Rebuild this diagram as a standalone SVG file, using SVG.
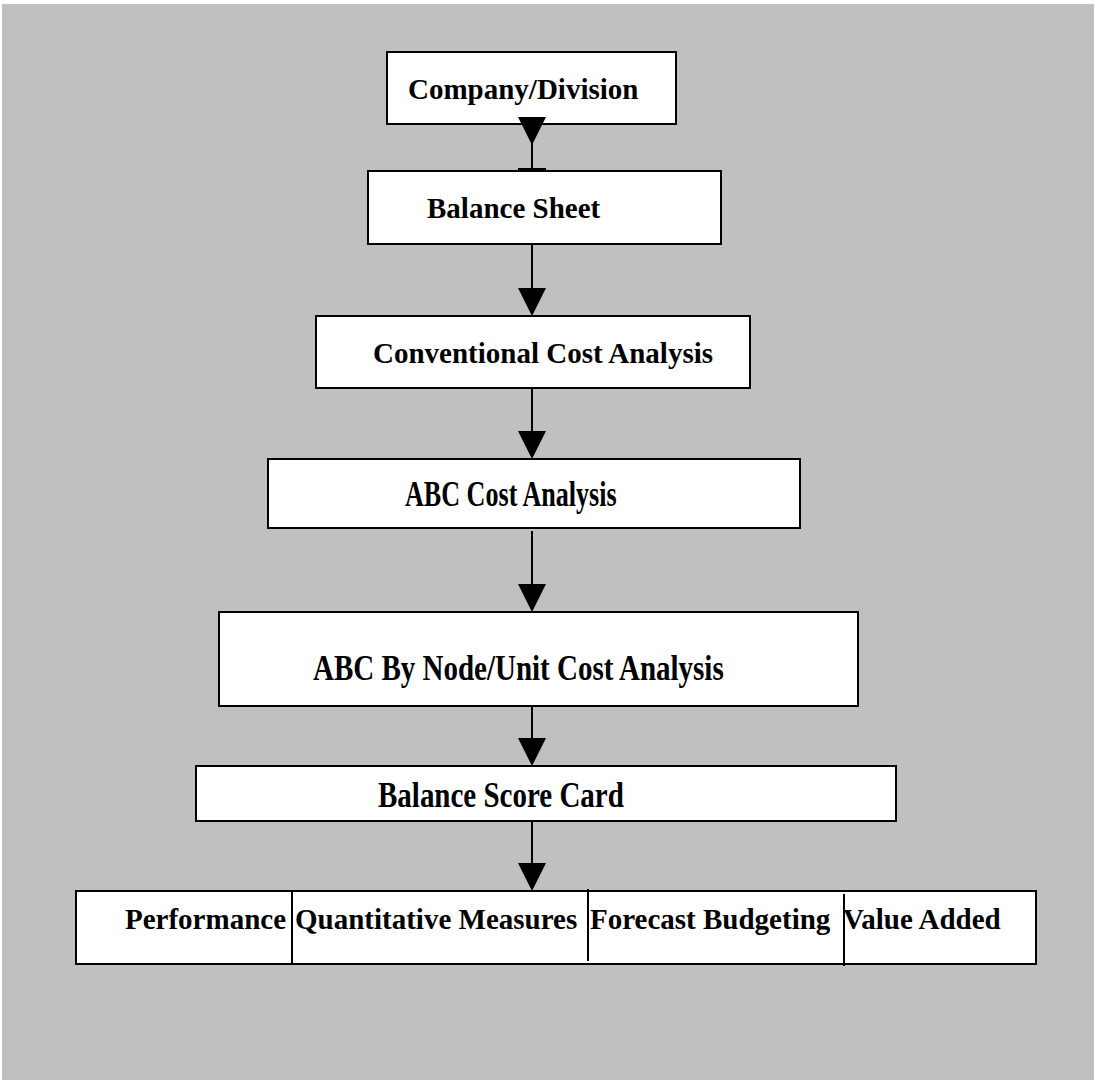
<svg xmlns="http://www.w3.org/2000/svg" width="1096" height="1080" viewBox="0 0 1096 1080">
  <style>
    .box { fill: #ffffff; stroke: #000000; stroke-width: 2; }
    .lbl { font-family: "Liberation Serif", "Times New Roman", serif; font-weight: bold; font-size: 29px; fill: #000000; }
    .wire { stroke: #000000; stroke-width: 2; fill: none; }
    .head { fill: #000000; }
  </style>
  <defs>
    <!-- downward arrowhead, tip at (0,0) -->
    <polygon id="tip" class="head" points="-14,-28 14,-28 0,0"/>
  </defs>

  <rect x="0" y="0" width="1096" height="1080" fill="#ffffff"/>
  <rect x="2" y="4" width="1092" height="1076" fill="#c0c0c0"/>

  <g id="connectors">
    <line class="wire" x1="532" y1="140" x2="532" y2="170"/>
    <rect x="518" y="168" width="28" height="4" fill="#000000"/>
    <line class="wire" x1="532" y1="244" x2="532" y2="290"/>
    <line class="wire" x1="532" y1="388" x2="532" y2="434"/>
    <line class="wire" x1="532" y1="531" x2="532" y2="588"/>
    <line class="wire" x1="532" y1="706" x2="532" y2="742"/>
    <line class="wire" x1="532" y1="821" x2="532" y2="866"/>
  </g>

  <g id="company-division">
    <rect class="box" x="387" y="52" width="289" height="72"/>
    <text class="lbl" x="408" y="99">Company/Division</text>
  </g>

  <g id="balance-sheet">
    <rect class="box" x="368" y="171" width="353" height="73"/>
    <text class="lbl" x="427" y="218">Balance Sheet</text>
  </g>

  <g id="conventional-cost-analysis">
    <rect class="box" x="316" y="316" width="434" height="72"/>
    <text class="lbl" x="373" y="363">Conventional Cost Analysis</text>
  </g>

  <g id="abc-cost-analysis">
    <rect class="box" x="268" y="459" width="532" height="69"/>
    <text class="lbl" transform="translate(405,506) scale(0.9,1.2)">ABC Cost Analysis</text>
  </g>

  <g id="abc-by-node-unit-cost-analysis">
    <rect class="box" x="219" y="612" width="639" height="94"/>
    <text class="lbl" transform="translate(313,680) scale(1,1.2)">ABC By Node/Unit Cost Analysis</text>
  </g>

  <g id="balance-score-card">
    <rect class="box" x="196" y="766" width="700" height="55"/>
    <text class="lbl" transform="translate(378,807) scale(1,1.2)">Balance Score Card</text>
  </g>

  <g id="measures">
    <rect class="box" x="76" y="891" width="960" height="73"/>
    <line class="wire" x1="292" y1="891" x2="292" y2="964"/>
    <line class="wire" x1="588" y1="889" x2="588" y2="961"/>
    <line class="wire" x1="844" y1="894" x2="844" y2="966"/>
    <text class="lbl" x="125" y="929">Performance</text>
    <text class="lbl" x="295" y="929">Quantitative Measures</text>
    <text class="lbl" x="590" y="929">Forecast Budgeting</text>
    <text class="lbl" x="843" y="929">Value Added</text>
  </g>

  <g id="arrowheads">
    <use href="#tip" x="532" y="145"/>
    <use href="#tip" x="532" y="316"/>
    <use href="#tip" x="532" y="459"/>
    <use href="#tip" x="532" y="612"/>
    <use href="#tip" x="532" y="766"/>
    <use href="#tip" x="532" y="891"/>
  </g>
</svg>
